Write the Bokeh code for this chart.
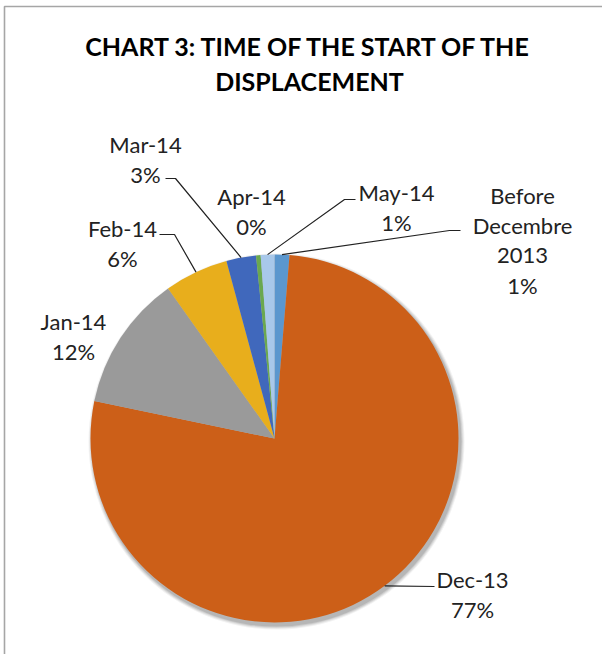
import numpy as np
from bokeh.plotting import figure
from bokeh.models import Range1d, ColumnDataSource
from bokeh.core.properties import value
from bokeh.embed import file_html
from bokeh.resources import INLINE

# ---- data ----
categories = ["Before Decembre 2013", "Dec-13", "Jan-14", "Feb-14", "Mar-14", "Apr-14", "May-14"]
shares = [1.3, 76.8, 11.9, 5.6, 2.6, 0.4, 1.2]
colors = ["#5B97CE", "#CC5F18", "#9A9A9A", "#E8AE1C", "#4068BC", "#6AA84F", "#A8C8EA"]
title_lines = ["CHART 3: TIME OF THE START OF THE", "DISPLACEMENT"]

# ---- layout (page pixel coords) ----
W, H = 602, 654
def X(px): return px - 8
def Y(py): return 662 - py
CX, CY, R = 282, 446, 184
label_pos = {  # label block centre, leader elbow/end
    "Before Decembre 2013": (530, 248, (457, 238), (468, 238)),
    "Dec-13": (480, 602, (442, 594), None),
    "Jan-14": (81, 344, None, None),
    "Feb-14": (130, 251, (182, 242), (167, 242)),
    "Mar-14": (153, 167, (183, 186), (173, 186)),
    "Apr-14": (259, 219, None, None),
    "May-14": (404, 215, (352, 207), (363, 207)),
}

p = figure(width=W, height=H, x_range=Range1d(0, W), y_range=Range1d(0, H),
           output_backend="svg", toolbar_location=None, min_border=0)
p.axis.visible = False
p.grid.visible = False
p.outline_line_color = None
p.background_fill_color = "white"

# chart frame (only left and top edges visible in the crop)
p.line([X(12), X(12), W + 5], [-5, Y(14), Y(14)], line_color="#A6A6A6", line_width=1.6)

# title
for i, t in enumerate(title_lines):
    p.text([X(317)], [Y(53 + 35 * i)], text=[t], text_align="center", text_baseline="middle",
           text_font=value("Lato"), text_font_style="bold", text_font_size="25px", text_color="#000000")

# shadow
for k, a in [(4, 0.05), (3, 0.07), (2, 0.09), (1, 0.1)]:
    p.circle([X(CX + 2)], [Y(CY + 3)], radius=R + k, radius_units="data", fill_color="#000000",
             fill_alpha=a, line_color=None)

vals = np.array(shares, dtype=float)
frac = vals / vals.sum()
cum = np.concatenate([[0], np.cumsum(frac)])
start = np.pi / 2 - cum[:-1] * 2 * np.pi
end = np.pi / 2 - cum[1:] * 2 * np.pi
src = ColumnDataSource(dict(x=[X(CX)] * len(vals), y=[Y(CY)] * len(vals), s=start, e=end, c=colors))
p.wedge(x="x", y="y", radius=R, radius_units="data", start_angle="s", end_angle="e",
        direction="clock", fill_color="c", line_color=None, source=src)

# labels and leaders
for i, cat in enumerate(categories):
    lx, ly, elbow, tail = label_pos[cat]
    pct = f"{int(round(frac[i] * 100))}%"
    lines = cat.split(" ") + [pct] if cat.startswith("Before") else [cat, pct]
    n = len(lines)
    sp = 30
    for j, t in enumerate(lines):
        yy = ly + (j - (n - 1) / 2) * sp
        p.text([X(lx)], [Y(yy)], text=[t], text_align="center", text_baseline="middle",
               text_font=value("Lato"), text_font_size="22px", text_color="#222222")
    if elbow is not None:
        mid = (cum[i] + cum[i + 1]) / 2 * 2 * np.pi
        sx, sy = CX + R * np.sin(mid), CY - R * np.cos(mid)
        xs, ys = [sx, elbow[0]], [sy, elbow[1]]
        if tail is not None:
            xs.append(tail[0]); ys.append(tail[1])
        p.line([X(v) for v in xs], [Y(v) for v in ys], line_color="#222222", line_width=1.2)

open("out.html", "w").write(file_html(p, INLINE))
